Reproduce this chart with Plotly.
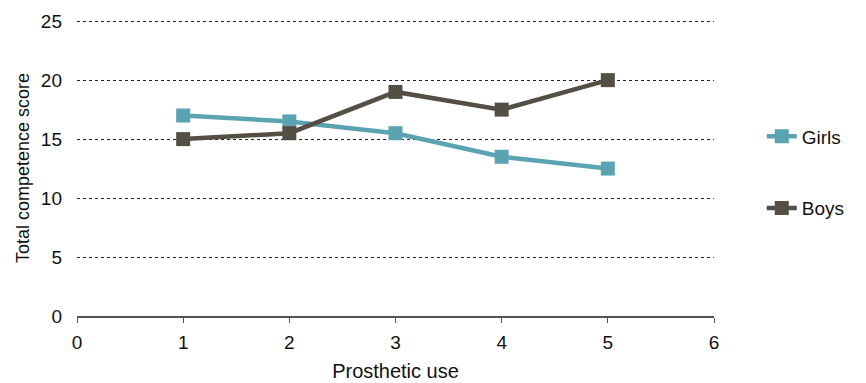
import plotly.graph_objects as go

prosthetic_use = [1, 2, 3, 4, 5]
girls = [17, 16.5, 15.5, 13.5, 12.5]
boys = [15, 15.5, 19, 17.5, 20]

fig = go.Figure()
fig.add_trace(go.Scatter(x=prosthetic_use, y=girls, name="Girls", mode="lines+markers",
                         line=dict(color="#5BA3B0", width=4.5),
                         marker=dict(symbol="square", size=14, color="#5BA3B0"),
                         legendgroup="g"))
fig.add_trace(go.Scatter(x=prosthetic_use, y=boys, name="Boys", mode="lines+markers",
                         line=dict(color="#544E44", width=4.5),
                         marker=dict(symbol="square", size=14, color="#544E44"),
                         legendgroup="b"))

fig.update_layout(
    width=866, height=383,
    margin=dict(l=77, r=152, t=20, b=67),
    plot_bgcolor="white", paper_bgcolor="white",
    font=dict(family="Liberation Sans, Arial, sans-serif", size=19, color="#111"),
    xaxis=dict(range=[0, 6], dtick=1, showgrid=False, zeroline=False, automargin=False,
               showline=True, linecolor="#555", linewidth=1.5,
               ticks="outside", ticklen=5, tickcolor="#555", ticklabelstandoff=3,
               title=dict(text="Prosthetic use", font=dict(size=20), standoff=12)),
    yaxis=dict(range=[0, 25.1], dtick=5, showgrid=True, gridcolor="#222",
               griddash="dot", gridwidth=1, zeroline=False, showline=False, automargin=False,
               ticks="", ticklabelstandoff=14,
               title=dict(text="Total competence score", font=dict(size=18), standoff=6)),
    legend=dict(x=1.075, y=0.485, xanchor="left", yanchor="middle",
                tracegroupgap=44, itemwidth=30, font=dict(size=19),
                bgcolor="rgba(0,0,0,0)"),
)
fig.write_html("out.html")
